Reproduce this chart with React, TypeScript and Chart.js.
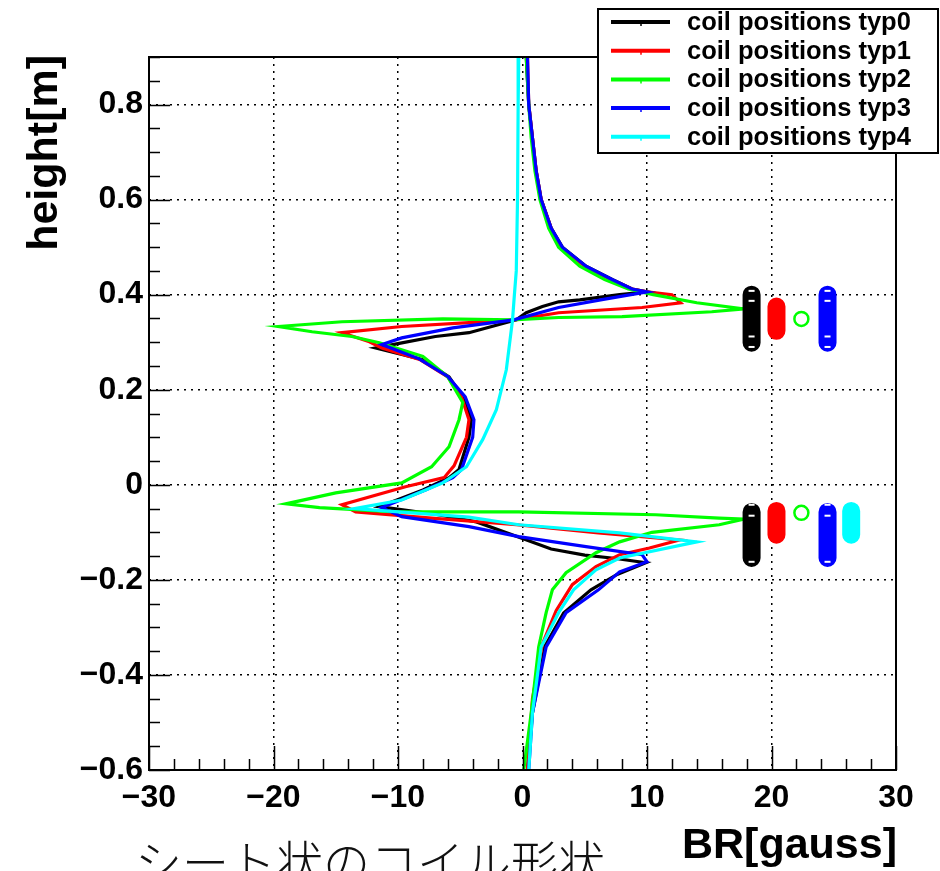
import React, { useEffect, useRef } from "react";
import { Chart, registerables } from "chart.js";

Chart.register(...registerables);

// ---------- data ----------
const seriesNames = [
  "coil positions typ0",
  "coil positions typ1",
  "coil positions typ2",
  "coil positions typ3",
  "coil positions typ4",
];
const seriesColors = ["#000000", "#ff0000", "#00ff00", "#0000ff", "#00ffff"];

// typ0 (black): BR [gauss] vs height [m]
const typ0BR = [0.3, 0.5, 0.8, 1.1, 1.5, 2.3, 3.2, 5.1, 7.2, 8.8, 10.0, 7.8, 4.6, 2.9, 1.6, 0.3, -0.5, -4.3, -7.0, -9.8, -11.8, -8.0, -5.9, -4.8, -4.1, -4.3, -5.1, -5.9, -8.0, -11.5, -7.0, -3.7, 0.0, 2.3, 5.0, 7.5, 9.9, 7.5, 5.5, 3.3, 1.8, 0.8, 0.4];
const typ0H = [0.9, 0.8, 0.73, 0.66, 0.6, 0.54, 0.5, 0.46, 0.432, 0.412, 0.406, 0.4, 0.389, 0.385, 0.375, 0.362, 0.347, 0.32, 0.312, 0.298, 0.288, 0.263, 0.227, 0.185, 0.137, 0.1, 0.032, 0.015, -0.011, -0.046, -0.062, -0.078, -0.113, -0.135, -0.148, -0.155, -0.164, -0.19, -0.221, -0.27, -0.34, -0.48, -0.6];

// typ1 (red)
const typ1BR = [0.4, 0.5, 0.8, 1.1, 1.5, 2.3, 3.1, 5.0, 7.1, 8.8, 10.0, 12.0, 12.7, 9.6, 2.9, -0.6, -4.3, -9.7, -14.5, -12.3, -11.3, -8.2, -6.0, -4.9, -4.3, -4.5, -5.5, -6.3, -9.4, -14.5, -13.4, -7.3, -0.5, 6.1, 12.6, 10.2, 7.8, 5.9, 4.0, 2.7, 1.6, 0.8, 0.4];
const typ1H = [0.9, 0.8, 0.73, 0.66, 0.6, 0.54, 0.5, 0.46, 0.432, 0.412, 0.406, 0.4, 0.383, 0.373, 0.362, 0.347, 0.341, 0.333, 0.32, 0.301, 0.288, 0.263, 0.227, 0.185, 0.137, 0.1, 0.04, 0.015, -0.004, -0.042, -0.057, -0.07, -0.084, -0.101, -0.116, -0.133, -0.147, -0.172, -0.21, -0.265, -0.335, -0.45, -0.6];

// typ2 (green)
const typ2BR = [0.3, 0.5, 0.7, 1.0, 1.4, 2.1, 2.9, 4.6, 6.6, 8.5, 10.5, 14.0, 17.8, 15.2, 8.0, 2.9, -0.8, -6.4, -14.5, -19.6, -16.9, -13.7, -11.5, -8.0, -6.0, -4.8, -5.1, -5.9, -7.3, -9.7, -15.0, -19.0, -16.3, -10.2, -0.3, 10.7, 15.8, 17.8, 15.8, 10.4, 7.8, 5.9, 3.5, 2.4, 1.9, 1.3, 0.7, 0.1];
const typ2H = [0.9, 0.8, 0.73, 0.66, 0.6, 0.54, 0.5, 0.46, 0.432, 0.412, 0.4, 0.383, 0.37, 0.364, 0.354, 0.352, 0.347, 0.349, 0.343, 0.333, 0.322, 0.312, 0.299, 0.27, 0.227, 0.173, 0.137, 0.08, 0.038, 0.004, -0.017, -0.04, -0.048, -0.057, -0.057, -0.063, -0.07, -0.072, -0.084, -0.1, -0.12, -0.143, -0.185, -0.221, -0.269, -0.341, -0.48, -0.6];

// typ3 (blue)
const typ3BR = [0.4, 0.5, 0.8, 1.1, 1.5, 2.3, 3.2, 5.1, 7.2, 8.8, 10.0, 6.5, 2.9, -0.7, -5.6, -9.7, -11.3, -8.3, -6.0, -4.6, -3.9, -4.0, -4.9, -5.6, -7.8, -11.3, -9.7, -4.3, -0.3, 5.1, 9.6, 10.0, 7.8, 6.1, 3.5, 1.9, 0.8, 0.5];
const typ3H = [0.9, 0.8, 0.73, 0.66, 0.6, 0.54, 0.5, 0.46, 0.432, 0.412, 0.406, 0.39, 0.373, 0.347, 0.33, 0.309, 0.295, 0.265, 0.228, 0.185, 0.137, 0.1, 0.032, 0.015, -0.011, -0.048, -0.067, -0.088, -0.109, -0.13, -0.147, -0.162, -0.183, -0.221, -0.269, -0.341, -0.48, -0.6];

// typ4 (cyan)
const typ4BR = [-0.3, -0.35, -0.4, -0.5, -0.65, -0.8, -1.3, -2.1, -3.2, -4.5, -6.4, -9.7, -13.5, -4.3, -0.3, 7.8, 14.0, 7.8, 5.9, 4.1, 2.9, 1.5, 0.8, 0.5];
const typ4H = [0.9, 0.8, 0.6, 0.45, 0.4, 0.347, 0.242, 0.158, 0.095, 0.038, 0.004, -0.032, -0.05, -0.068, -0.084, -0.101, -0.12, -0.154, -0.179, -0.221, -0.269, -0.341, -0.48, -0.6];

// coil glyphs drawn on the right
const coilBR = [18.4, 20.4, 22.4, 24.5, 26.4];
const coilUpperTop = [0.4, 0.375, 0.349, 0.4, null];
const coilUpperBottom = [0.299, 0.324, 0.349, 0.299, null];
const coilLowerTop = [-0.057, -0.055, -0.059, -0.057, -0.055];
const coilLowerBottom = [-0.154, -0.105, -0.059, -0.154, -0.105];
const coilMarkH = [0.408, 0.387, 0.312, 0.29, -0.042, -0.065, -0.162];

// axes
const xTicks = [-30, -20, -10, 0, 10, 20, 30];
const xTickLabels = ["\u221230", "\u221220", "\u221210", "0", "10", "20", "30"];
const yTicks = [-0.6, -0.4, -0.2, 0, 0.2, 0.4, 0.6, 0.8];
const yTickLabels = ["\u22120.6", "\u22120.4", "\u22120.2", "0", "0.2", "0.4", "0.6", "0.8"];
const xMinorStep = 2;
const yMinorStep = 0.05;
const xTitle = "BR[gauss]";
const yTitle = "height[m]";
const captionText = "シート状のコイル形状";

const FONT = "'Liberation Sans', Arial, Helvetica, sans-serif";

function pts(xs: number[], ys: number[]) {
  return xs.map((x, i) => ({ x, y: ys[i] }));
}

const rootPlugin = {
  id: "rootDecor",
  afterDraw(chart: any) {
    const ctx = chart.ctx as CanvasRenderingContext2D;
    const area = chart.chartArea;
    const xs = chart.scales.x;
    const ys = chart.scales.y;
    ctx.save();
    // frame
    ctx.strokeStyle = "#000";
    ctx.lineWidth = 2;
    ctx.strokeRect(area.left, area.top, area.right - area.left, area.bottom - area.top);
    // x ticks
    ctx.lineWidth = 1.5;
    ctx.beginPath();
    for (let v = xs.min; v <= xs.max + 1e-9; v += xMinorStep) {
      const px = Math.round(xs.getPixelForValue(v)) + 0.5;
      const major = Math.abs(v / 10 - Math.round(v / 10)) < 1e-6;
      const len = major ? 24 : 11;
      ctx.moveTo(px, area.bottom);
      ctx.lineTo(px, area.bottom - len);
    }
    // y ticks
    for (let v = ys.min; v <= ys.max + 1e-9; v += yMinorStep) {
      const py = Math.round(ys.getPixelForValue(v)) + 0.5;
      const major = Math.abs((v + 0.6) / 0.2 - Math.round((v + 0.6) / 0.2)) < 1e-6;
      const len = major ? 21 : 11;
      ctx.moveTo(area.left, py);
      ctx.lineTo(area.left + len, py);
    }
    ctx.stroke();

    // axis titles
    ctx.fillStyle = "#000";
    ctx.font = `bold 43px ${FONT}`;
    ctx.textAlign = "right";
    ctx.textBaseline = "alphabetic";
    ctx.fillText(xTitle, area.right + 1, 858);
    ctx.save();
    ctx.translate(57, area.top - 2);
    ctx.rotate(-Math.PI / 2);
    ctx.fillText(yTitle, 0, 0);
    ctx.restore();

    // caption
    ctx.font = `300 47px 'Noto Sans CJK JP', sans-serif`;
    ctx.textAlign = "center";
    ctx.fillStyle = "#111";
    ctx.fillText(captionText, 370, 880);

    // legend
    const lx = 598, ly = 9, lw = 340, lh = 144;
    ctx.fillStyle = "#fff";
    ctx.fillRect(lx, ly, lw, lh);
    ctx.strokeStyle = "#000";
    ctx.lineWidth = 2;
    ctx.strokeRect(lx, ly, lw, lh);
    ctx.font = `bold 25.5px ${FONT}`;
    ctx.textAlign = "left";
    ctx.textBaseline = "middle";
    for (let i = 0; i < seriesNames.length; i++) {
      const cy = 22 + i * 28.7;
      ctx.strokeStyle = seriesColors[i];
      ctx.lineWidth = 4;
      ctx.beginPath();
      ctx.moveTo(611, cy);
      ctx.lineTo(670, cy);
      ctx.stroke();
      ctx.lineWidth = 1.5;
      ctx.beginPath();
      ctx.moveTo(641, cy);
      ctx.lineTo(641, cy + 4);
      ctx.stroke();
      ctx.fillStyle = "#000";
      ctx.fillText(seriesNames[i], 687, cy + 1);
    }
    ctx.restore();
  },
};

export default function App() {
  const ref = useRef<HTMLCanvasElement | null>(null);
  useEffect(() => {
    if (!ref.current) return;
    const curves = [
      [typ0BR, typ0H],
      [typ1BR, typ1H],
      [typ2BR, typ2H],
      [typ3BR, typ3H],
      [typ4BR, typ4H],
    ].map(([bx, hy], i) => ({
      label: seriesNames[i],
      data: pts(bx as number[], hy as number[]),
      showLine: true,
      borderColor: seriesColors[i],
      backgroundColor: seriesColors[i],
      borderWidth: 3.2,
      pointRadius: 0,
      tension: 0,
      order: 10 - i,
    }));
    const coils: any[] = [];
    coilBR.forEach((x, i) => {
      const segs: [number | null, number | null][] = [
        [coilUpperTop[i], coilUpperBottom[i]],
        [coilLowerTop[i], coilLowerBottom[i]],
      ];
      segs.forEach(([t, b]) => {
        if (t === null || b === null) return;
        if (t === b) {
          coils.push({
            data: [{ x, y: t }],
            showLine: false,
            pointRadius: 7,
            pointBorderWidth: 2.5,
            pointBorderColor: seriesColors[i],
            pointBackgroundColor: "rgba(0,0,0,0)",
            order: 1,
          });
        } else {
          coils.push({
            data: [
              { x, y: t },
              { x, y: b },
            ],
            showLine: true,
            borderColor: seriesColors[i],
            borderWidth: 18,
            borderCapStyle: "round",
            pointRadius: 0,
            order: 1,
          });
        }
      });
    });
    const marks = [0, 3].map((i) => ({
      data: coilMarkH.map((h) => ({ x: coilBR[i], y: h })),
      showLine: false,
      pointStyle: "line",
      pointRadius: 3,
      pointBorderWidth: 2,
      pointBorderColor: "#ffffff",
      order: 0,
    }));

    const chart = new Chart(ref.current, {
      type: "scatter",
      data: { datasets: [...curves, ...coils, ...marks] as any },
      options: {
        animation: false,
        responsive: false,
        devicePixelRatio: 1,
        layout: { padding: { left: 0, top: 57, right: 44, bottom: 0 } },
        plugins: { legend: { display: false }, tooltip: { enabled: false } },
        scales: {
          x: {
            type: "linear",
            min: -30,
            max: 30,
            afterBuildTicks: (s: any) => {
              s.ticks = xTicks.map((v) => ({ value: v }));
            },
            afterFit: (s: any) => {
              s.height = 101;
            },
            grid: { color: "#000", lineWidth: 1.5, drawTicks: false },
            border: { display: false, dash: [2, 5] },
            ticks: {
              autoSkip: false,
              maxRotation: 0,
              padding: 9,
              color: "#000",
              font: { family: FONT, size: 32, weight: "bold" },
              callback: (_v: any, i: number) => xTickLabels[i],
            },
          },
          y: {
            type: "linear",
            min: -0.6,
            max: 0.9,
            afterBuildTicks: (s: any) => {
              s.ticks = yTicks.map((v) => ({ value: v }));
            },
            afterFit: (s: any) => {
              s.width = 149;
            },
            grid: { color: "#000", lineWidth: 1.5, drawTicks: false },
            border: { display: false, dash: [2, 5] },
            ticks: {
              autoSkip: false,
              padding: 6,
              color: "#000",
              font: { family: FONT, size: 32, weight: "bold" },
              callback: (_v: any, i: number) => yTickLabels[i],
            },
          },
        },
      },
      plugins: [rootPlugin],
    } as any);
    return () => chart.destroy();
  }, []);

  return (
    <div style={{ position: "fixed", left: 0, top: 0, width: 940, height: 871, background: "#fff" }}>
      <canvas ref={ref} width={940} height={871} style={{ display: "block", width: 940, height: 871 }} />
    </div>
  );
}
